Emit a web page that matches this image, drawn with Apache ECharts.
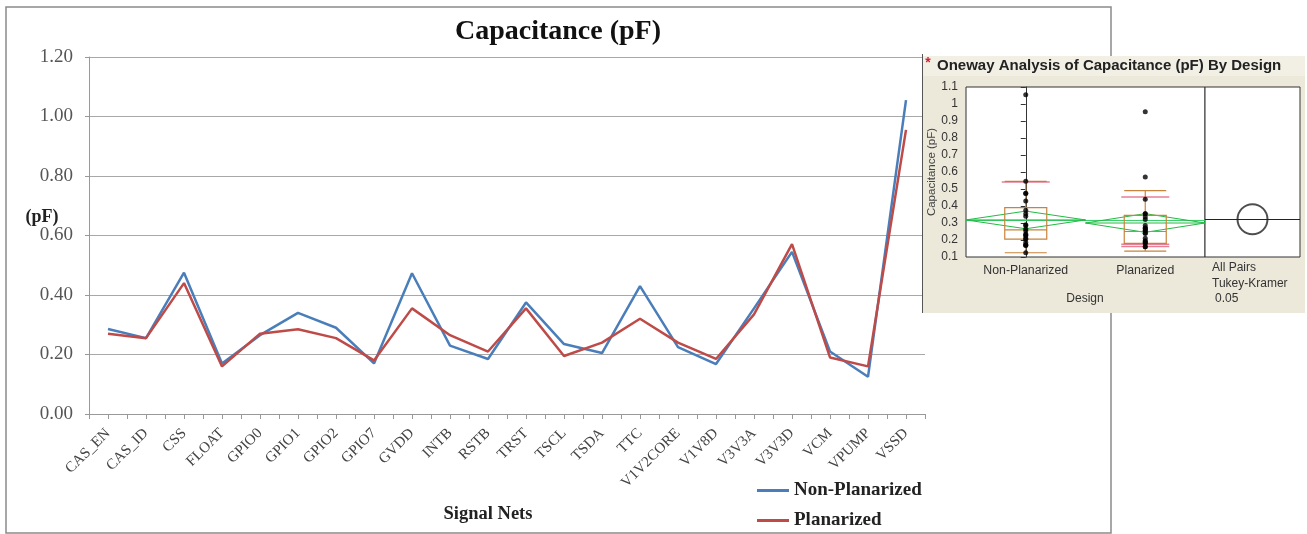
<!DOCTYPE html>
<html><head><meta charset="utf-8">
<script src="https://cdn.jsdelivr.net/npm/echarts@6/dist/echarts.min.js"></script>
<style>html,body{margin:0;padding:0;background:#fff}#c{width:1307px;height:534px}</style>
</head><body><div id="c"></div>
<script>
// ---- main chart data ----
const categories = ['CAS_EN','CAS_ID','CSS','FLOAT','GPIO0','GPIO1','GPIO2','GPIO7','GVDD','INTB','RSTB','TRST','TSCL','TSDA','TTC','V1V2CORE','V1V8D','V3V3A','V3V3D','VCM','VPUMP','VSSD'];
const nonPlanarized = [0.286,0.255,0.475,0.170,0.265,0.340,0.290,0.170,0.473,0.230,0.185,0.375,0.235,0.205,0.430,0.225,0.168,0.355,0.545,0.210,0.125,1.055];
const planarized    = [0.270,0.255,0.440,0.160,0.270,0.285,0.255,0.180,0.355,0.265,0.210,0.355,0.195,0.240,0.320,0.240,0.185,0.335,0.571,0.190,0.160,0.955];
const seriesNames = ['Non-Planarized','Planarized'];

// ---- inset (JMP oneway analysis) data ----
const designGroups = ['Non-Planarized','Planarized'];
const boxNonPlanarized = [0.125,0.205,0.260,0.390,0.545];   // min, Q1, median, Q3, max
const boxPlanarized    = [0.135,0.180,0.250,0.345,0.490];
const groupMeans = [0.318,0.300];
const groupCI    = [0.052,0.055];
const grandMean  = 0.315;
const redLinesNonPlanarized = [0.541];
const redLinesPlanarized    = [0.453,0.175,0.162];
const tukeyCircleY = 0.322;

const serif = 'Liberation Serif';
const sans = 'Liberation Sans';
const blue = '#4A7EBB', red = '#BE4B48';

const chart = echarts.init(document.getElementById('c'), null, {renderer:'canvas'});

function diamond(i){
  const m = groupMeans[i], c = groupCI[i];
  return [[i-0.5,m],[i,m+c],[i+0.5,m],[i,m-c],[i-0.5,m]];
}

const option = {
  backgroundColor:'#fff',
  animation:false,
  grid:[
    {left:89, top:57, width:836, height:357},
    {left:966, top:87, width:239, height:170, show:true, backgroundColor:'#fff', borderColor:'#333', borderWidth:1, z:3},
    {left:1205, top:87, width:95, height:170, show:true, backgroundColor:'#fff', borderColor:'#333', borderWidth:1, z:3}
  ],
  xAxis:[
    {type:'category', gridIndex:0, data:categories, boundaryGap:true,
     axisLine:{lineStyle:{color:'#999'}}, axisTick:{show:false},
     axisLabel:{interval:0, rotate:45, fontFamily:serif, fontSize:15, color:'#444', margin:17}},
    {type:'category', gridIndex:0, data:new Array(44).fill(''), boundaryGap:true, position:'bottom',
     axisLine:{show:false}, axisLabel:{show:false},
     axisTick:{show:true, interval:0, length:5, lineStyle:{color:'#999'}}},
    {type:'category', gridIndex:1, data:designGroups, z:6,
     axisLine:{show:false}, axisTick:{show:false},
     axisLabel:{fontFamily:sans, fontSize:12.3, color:'#333', margin:8}},
    {type:'value', gridIndex:1, min:-0.5, max:1.5, show:false},
    {type:'value', gridIndex:2, min:-1, max:1, show:false}
  ],
  yAxis:[
    {type:'value', gridIndex:0, min:0, max:1.2, interval:0.2,
     axisLine:{show:true, lineStyle:{color:'#999'}},
     axisTick:{show:true, length:4, lineStyle:{color:'#999'}},
     axisLabel:{formatter:v=>v.toFixed(2), fontFamily:serif, fontSize:19, color:'#555', margin:16},
     splitLine:{lineStyle:{color:'#A8A8A8', width:1}}},
    {type:'value', gridIndex:1, min:0.1, max:1.1, interval:0.1, z:6,
     name:'Capacitance (pF)', nameLocation:'middle', nameGap:28, nameRotate:90,
     nameTextStyle:{fontFamily:sans, fontSize:11.5, color:'#444'},
     axisLine:{show:true, lineStyle:{color:'#333'}},
     axisTick:{show:true, length:5, lineStyle:{color:'#333'}},
     axisLabel:{formatter:v=>String(Math.round(v*10)/10), fontFamily:sans, fontSize:12, color:'#333', margin:8},
     splitLine:{show:false}},
    {type:'value', gridIndex:2, min:0.1, max:1.1, show:false}
  ],
  legend:{
    data:seriesNames, orient:'vertical', left:757, top:481, padding:0, itemGap:11,
    itemWidth:32, itemHeight:3, icon:'rect',
    textStyle:{fontFamily:serif, fontSize:19, fontWeight:'bold', color:'#222'}
  },
  series:[
    {name:seriesNames[0], type:'line', xAxisIndex:0, yAxisIndex:0, data:nonPlanarized,
     symbol:'none', lineStyle:{color:blue, width:2.5}, itemStyle:{color:blue}, z:2},
    {name:seriesNames[1], type:'line', xAxisIndex:0, yAxisIndex:0, data:planarized,
     symbol:'none', lineStyle:{color:red, width:2.5}, itemStyle:{color:red}, z:3},

    // inset: grand mean
    {type:'line', xAxisIndex:3, yAxisIndex:1, data:[[-0.5,grandMean],[1.5,grandMean]],
     symbol:'none', lineStyle:{color:'#33CC66', width:1}, z:6, silent:true},
    // means diamonds
    {type:'line', xAxisIndex:3, yAxisIndex:1, data:diamond(0), symbol:'none',
     lineStyle:{color:'#22BB44', width:1}, z:6, silent:true},
    {type:'line', xAxisIndex:3, yAxisIndex:1, data:diamond(1), symbol:'none',
     lineStyle:{color:'#22BB44', width:1}, z:6, silent:true},
    {type:'line', xAxisIndex:3, yAxisIndex:1, data:[[-0.5,groupMeans[0]],[0.5,groupMeans[0]]], symbol:'none',
     lineStyle:{color:'#22BB44', width:1}, z:6, silent:true},
    {type:'line', xAxisIndex:3, yAxisIndex:1, data:[[0.5,groupMeans[1]],[1.5,groupMeans[1]]], symbol:'none',
     lineStyle:{color:'#22BB44', width:1}, z:6, silent:true},
    // box plots
    {type:'boxplot', xAxisIndex:2, yAxisIndex:1, data:[boxNonPlanarized, boxPlanarized],
     boxWidth:[42,42], itemStyle:{color:'rgba(0,0,0,0)', borderColor:'#C8843C', borderWidth:1.2}, z:7, silent:true},
    // red quantile lines
    {type:'scatter', xAxisIndex:3, yAxisIndex:1, symbol:'rect', symbolSize:[48,1.5],
     data:redLinesNonPlanarized.map(v=>[0,v]).concat(redLinesPlanarized.map(v=>[1,v])),
     itemStyle:{color:'#E0607A'}, z:8, silent:true},
    // observation points
    {type:'scatter', xAxisIndex:3, yAxisIndex:1, symbolSize:5,
     data:nonPlanarized.map(v=>[0,v]).concat(planarized.map(v=>[1,v])),
     itemStyle:{color:'#000'}, z:9, silent:true},
    // Tukey-Kramer comparison circle
    {type:'scatter', xAxisIndex:4, yAxisIndex:2, symbol:'circle', symbolSize:30,
     data:[[0,tukeyCircleY]],
     itemStyle:{color:'rgba(0,0,0,0)', borderColor:'#222', borderWidth:2}, z:9, silent:true,
     markLine:{silent:true, symbol:'none', label:{show:false},
       lineStyle:{color:'#222', width:1.2, type:'solid'}, data:[{yAxis:tukeyCircleY}]}}
  ],
  graphic:[
    {type:'rect', z:0, shape:{x:6, y:7, width:1105, height:526},
     style:{fill:'none', stroke:'#8a8a8a', lineWidth:1.5}},
    {type:'text', z:1, x:558, y:32, style:{text:'Capacitance (pF)', font:'bold 28px "Liberation Serif"', fill:'#111', textAlign:'center', textVerticalAlign:'middle'}},
    {type:'text', z:1, x:42, y:217, style:{text:'(pF)', font:'bold 18px "Liberation Serif"', fill:'#222', textAlign:'center', textVerticalAlign:'middle'}},
    {type:'text', z:1, x:488, y:514, style:{text:'Signal Nets', font:'bold 18.5px "Liberation Serif"', fill:'#222', textAlign:'center', textVerticalAlign:'middle'}},

    // inset panel
    {type:'rect', z:2, shape:{x:922, y:56, width:383, height:257}, style:{fill:'#ECE8DA', stroke:'none'}},
    {type:'rect', z:2, shape:{x:922, y:56, width:383, height:20}, style:{fill:'#F2EFE5', stroke:'none'}},
    {type:'line', z:3, shape:{x1:922.5, y1:54, x2:922.5, y2:313}, style:{stroke:'#555', lineWidth:1}},
    {type:'text', z:4, x:928, y:63, style:{text:'*', font:'bold 14px "Liberation Sans"', fill:'#D02030', textAlign:'center', textVerticalAlign:'middle'}},
    {type:'text', z:4, x:937, y:66, style:{text:'Oneway Analysis of Capacitance (pF) By Design', font:'bold 15px "Liberation Sans"', fill:'#222', textAlign:'left', textVerticalAlign:'middle'}},
    {type:'text', z:4, x:1085, y:299, style:{text:'Design', font:'12px "Liberation Sans"', fill:'#333', textAlign:'center', textVerticalAlign:'middle'}},
    {type:'text', z:4, x:1212, y:268, style:{text:'All Pairs', font:'12px "Liberation Sans"', fill:'#333', textAlign:'left', textVerticalAlign:'middle'}},
    {type:'text', z:4, x:1212, y:284, style:{text:'Tukey-Kramer', font:'12px "Liberation Sans"', fill:'#333', textAlign:'left', textVerticalAlign:'middle'}},
    {type:'text', z:4, x:1215, y:299, style:{text:'0.05', font:'12px "Liberation Sans"', fill:'#333', textAlign:'left', textVerticalAlign:'middle'}}
  ]
};
chart.setOption(option);
</script>
</body></html>
